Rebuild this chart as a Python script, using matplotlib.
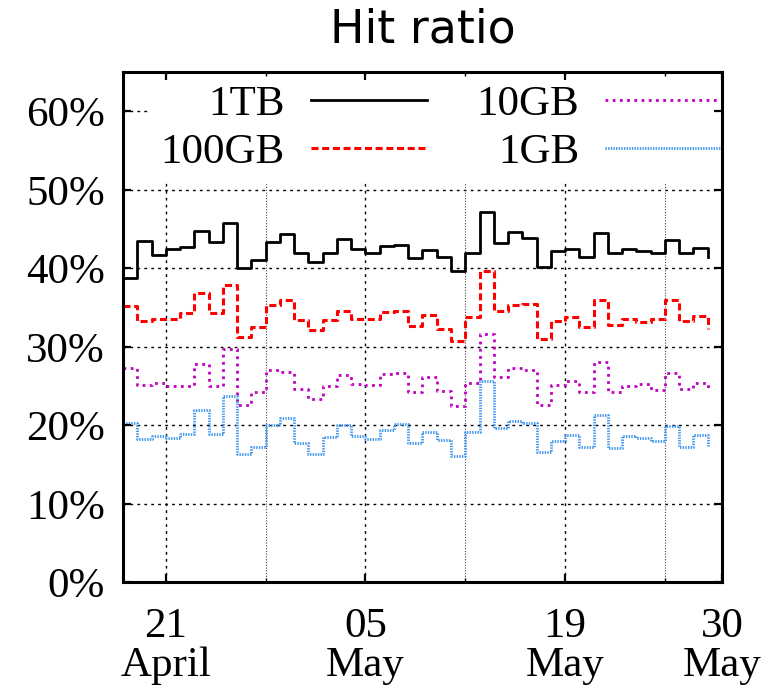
import datetime as dt
import matplotlib
matplotlib.use("Agg")
import matplotlib.pyplot as plt
import matplotlib.dates as mdates
import matplotlib.ticker as mticker

# daily hit ratio (%) per cache size, 18 April .. 29 May
start = dt.datetime(2013, 4, 18)
days = [start + dt.timedelta(days=i) for i in range(42)]

hit_1tb = [38.7, 43.5, 41.7, 42.5, 42.7, 44.8, 43.3, 45.8, 40.0, 41.1,
           43.4, 44.4, 42.0, 40.8, 41.9, 43.7, 42.5, 42.0, 42.8, 43.0,
           41.3, 42.3, 41.5, 39.6, 42.0, 47.2, 43.2, 44.6, 43.9, 40.1,
           42.2, 42.5, 41.4, 44.5, 42.0, 42.5, 42.2, 42.0, 43.6, 41.9,
           42.6, 41.4]
hit_100gb = [35.2, 33.3, 33.5, 33.5, 34.3, 36.9, 34.3, 37.9, 31.3, 32.5,
             35.3, 35.9, 33.4, 32.1, 33.4, 34.6, 33.5, 33.6, 34.4, 34.6,
             32.6, 34.1, 32.3, 30.8, 33.8, 39.6, 34.6, 35.3, 35.4, 31.0,
             33.3, 33.8, 32.5, 35.9, 32.8, 33.5, 33.1, 33.5, 35.9, 33.3,
             33.9, 32.3]
hit_10gb = [27.3, 25.1, 25.4, 25.0, 25.0, 27.8, 25.0, 29.7, 22.6, 24.2,
            27.0, 26.8, 24.6, 23.4, 25.0, 26.4, 25.3, 25.1, 26.5, 26.7,
            24.2, 26.1, 24.4, 22.4, 25.4, 31.6, 26.2, 27.3, 27.0, 22.6,
            25.1, 25.6, 24.2, 28.1, 24.2, 25.0, 25.2, 24.5, 26.7, 24.6,
            25.4, 24.2]
hit_1gb = [20.3, 18.3, 18.6, 18.4, 18.9, 21.9, 18.9, 23.7, 16.4, 17.2,
           20.1, 20.9, 17.8, 16.3, 18.5, 20.0, 18.6, 18.3, 19.4, 20.2,
           17.8, 19.1, 18.1, 16.1, 19.2, 25.6, 19.7, 20.5, 20.3, 16.6,
           18.0, 18.8, 17.3, 21.3, 17.1, 18.6, 18.4, 18.0, 19.9, 17.3,
           18.8, 17.4]

labels = ["1TB", "100GB", "10GB", "1GB"]
major_days = [dt.datetime(2013, 4, 21), dt.datetime(2013, 5, 5),
              dt.datetime(2013, 5, 19), dt.datetime(2013, 5, 30)]
minor_days = [dt.datetime(2013, 4, 28), dt.datetime(2013, 5, 12),
              dt.datetime(2013, 5, 26)]
y_ticks = [0, 10, 20, 30, 40, 50, 60]

serif = "Liberation Serif"
fs = 31

fig = plt.figure(figsize=(7.77, 6.93), dpi=100)
ax = fig.add_axes([0.1583, 0.1597, 0.7709, 0.7364])

ax.step(days, hit_1tb, where="post", color="black", lw=2.0, label=labels[0])
ax.step(days, hit_100gb, where="post", color="#ff0000", lw=2.2,
        dashes=(2.3, 1.2), label=labels[1])
ax.step(days, hit_10gb, where="post", color="#c000c0", lw=2.0,
        dashes=(1.0, 1.6), label=labels[2])
ax.step(days, hit_1gb, where="post", color="#3d95ee", lw=2.0,
        dashes=(0.5, 0.45), label=labels[3])

ax.set_xlim(start, dt.datetime(2013, 5, 30))
ax.set_ylim(0, 65)

# grid drawn by hand so the key can sit above it but below the ticks
for y in y_ticks[1:]:
    ax.axhline(y, color="black", lw=1.0, dashes=(2, 3), zorder=1)
for d in major_days[:-1]:
    ax.axvline(d, color="black", lw=1.0, dashes=(2, 3), zorder=1)
for d in minor_days:
    ax.axvline(d, color="#444444", lw=0.8, dashes=(1, 1.5), zorder=1)
ax.set_axisbelow(False)

ax.set_xticks(major_days)
ax.set_xticks(minor_days, minor=True)
ax.xaxis.set_major_formatter(mdates.DateFormatter("%d\n%B"))
ax.set_yticks(y_ticks)
ax.yaxis.set_major_formatter(mticker.FuncFormatter(lambda v, p: "%d%%" % v))

ax.tick_params(axis="both", which="major", direction="in", length=6,
               width=1.6, top=True, right=True, labelsize=fs)
ax.tick_params(axis="x", which="minor", direction="in", length=3,
               width=1.0, top=True)
ax.tick_params(axis="x", which="major", pad=18)
ax.tick_params(axis="y", which="major", pad=13)
for t in ax.get_xticklabels() + ax.get_yticklabels():
    t.set_fontfamily(serif)
for t in ax.get_xticklabels():
    t.set_linespacing(1.02)

for s in ax.spines.values():
    s.set_linewidth(2.2)

ax.set_title("Hit ratio", fontsize=33, family="DejaVu Sans", pad=21)

leg = ax.legend(ncol=2, markerfirst=False, loc="upper right",
                bbox_to_anchor=(1.017, 0.995), borderaxespad=0, borderpad=0.25,
                handlelength=2.7, handletextpad=0.6, columnspacing=1.15,
                labelspacing=0.19, fancybox=False, framealpha=1,
                facecolor="white", edgecolor="none",
                prop={"family": serif, "size": fs})
leg.set_zorder(2.2)

fig.savefig("out.png", dpi=100)
